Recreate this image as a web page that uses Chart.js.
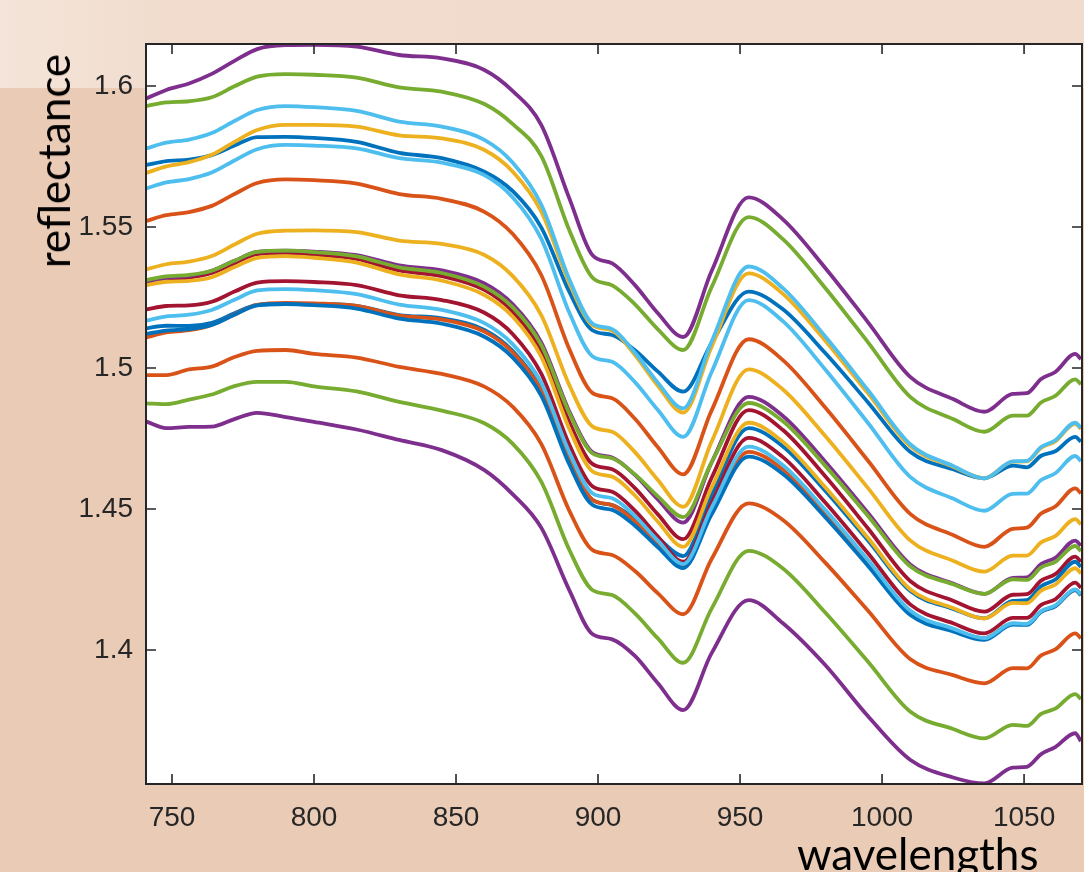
<!DOCTYPE html>
<html>
<head>
<meta charset="utf-8">
<script src="https://cdn.jsdelivr.net/npm/chart.js@4"></script>
<style>
  html, body { margin: 0; padding: 0; }
  body {
    width: 1084px; height: 872px; overflow: hidden; position: relative;
    background: #eacbb5;
  }
  #band {
    position: absolute; left: 0; top: 0; width: 1084px; height: 88px;
    background: linear-gradient(to right, #f4e4d9 0px, #f1dccd 180px, #f0dbcc 1084px);
  }
  #chart { position: absolute; left: 0; top: 0; }
  .title { position: absolute; font-family: Lato, "Open Sans", sans-serif; font-size: 44px; line-height: 44px; color: #000; white-space: nowrap; }
  #ylab { left: 53px; top: 161px; transform: translate(-50%, -50%) rotate(-90deg); }
  #xlab { left: 797px; top: 831px; }
</style>
</head>
<body>
<div id="band"></div>
<canvas id="chart" width="1084" height="872"></canvas>
<div class="title" id="ylab">reflectance</div>
<div class="title" id="xlab">wavelengths</div>

<script>
// wavelengths (nm) where the curves were sampled
const wl = [741, 748, 756, 764, 772, 780, 790, 800, 815, 830, 845, 860, 870, 880, 890, 898, 905,
  913, 921, 930, 940, 953, 965, 980, 995, 1010, 1025, 1036, 1046, 1051, 1056, 1061, 1068, 1070];

// reflectance spectra
const spec01 = [1.5720, 1.5734, 1.5739, 1.5755, 1.5789, 1.5819, 1.5820, 1.5816, 1.5802, 1.5763, 1.5744, 1.5696, 1.5627, 1.5499, 1.5268, 1.5134, 1.5117, 1.5063, 1.4988, 1.4916, 1.5089, 1.5271, 1.5209, 1.5053, 1.4879, 1.4702, 1.4641, 1.4609, 1.4654, 1.4648, 1.4689, 1.4705, 1.4756, 1.4739];
const spec02 = [1.5522, 1.5542, 1.5553, 1.5575, 1.5617, 1.5656, 1.5669, 1.5666, 1.5654, 1.5617, 1.5600, 1.5554, 1.5475, 1.5330, 1.5065, 1.4912, 1.4893, 1.4820, 1.4720, 1.4623, 1.4850, 1.5102, 1.5029, 1.4860, 1.4672, 1.4482, 1.4408, 1.4366, 1.4430, 1.4434, 1.4484, 1.4509, 1.4573, 1.4556];
const spec03 = [1.5692, 1.5715, 1.5730, 1.5756, 1.5802, 1.5844, 1.5862, 1.5862, 1.5856, 1.5825, 1.5814, 1.5773, 1.5696, 1.5555, 1.5299, 1.5152, 1.5133, 1.5046, 1.4938, 1.4842, 1.5076, 1.5336, 1.5264, 1.5097, 1.4911, 1.4722, 1.4650, 1.4609, 1.4668, 1.4669, 1.4717, 1.4740, 1.4802, 1.4784];
const spec04 = [1.5956, 1.5986, 1.6009, 1.6043, 1.6089, 1.6131, 1.6145, 1.6146, 1.6140, 1.6110, 1.6098, 1.6057, 1.5982, 1.5862, 1.5599, 1.5401, 1.5371, 1.5294, 1.5195, 1.5110, 1.5344, 1.5605, 1.5528, 1.5355, 1.5163, 1.4968, 1.4890, 1.4845, 1.4908, 1.4911, 1.4961, 1.4986, 1.5050, 1.5032];
const spec05 = [1.5929, 1.5942, 1.5946, 1.5960, 1.5999, 1.6033, 1.6042, 1.6040, 1.6030, 1.5995, 1.5980, 1.5936, 1.5865, 1.5752, 1.5486, 1.5321, 1.5293, 1.5226, 1.5138, 1.5064, 1.5287, 1.5535, 1.5458, 1.5284, 1.5092, 1.4897, 1.4819, 1.4774, 1.4831, 1.4831, 1.4878, 1.4901, 1.4960, 1.4942];
const spec06 = [1.5779, 1.5799, 1.5810, 1.5833, 1.5876, 1.5915, 1.5929, 1.5925, 1.5912, 1.5874, 1.5856, 1.5809, 1.5728, 1.5580, 1.5312, 1.5158, 1.5138, 1.5054, 1.4949, 1.4857, 1.5094, 1.5360, 1.5284, 1.5112, 1.4922, 1.4729, 1.4653, 1.4609, 1.4669, 1.4671, 1.4720, 1.4744, 1.4806, 1.4788];
const spec07 = [1.5301, 1.5315, 1.5321, 1.5337, 1.5372, 1.5404, 1.5408, 1.5402, 1.5387, 1.5346, 1.5326, 1.5277, 1.5200, 1.5060, 1.4806, 1.4660, 1.4641, 1.4574, 1.4482, 1.4393, 1.4611, 1.4851, 1.4781, 1.4616, 1.4432, 1.4244, 1.4175, 1.4136, 1.4196, 1.4198, 1.4246, 1.4269, 1.4331, 1.4313];
const spec08 = [1.5141, 1.5150, 1.5149, 1.5160, 1.5194, 1.5224, 1.5227, 1.5227, 1.5220, 1.5188, 1.5176, 1.5135, 1.5060, 1.4924, 1.4676, 1.4533, 1.4514, 1.4465, 1.4399, 1.4333, 1.4550, 1.4787, 1.4723, 1.4565, 1.4389, 1.4209, 1.4146, 1.4112, 1.4174, 1.4177, 1.4226, 1.4250, 1.4313, 1.4295];
const spec09 = [1.5109, 1.5126, 1.5134, 1.5153, 1.5190, 1.5224, 1.5231, 1.5229, 1.5220, 1.5186, 1.5172, 1.5129, 1.5055, 1.4920, 1.4674, 1.4533, 1.4514, 1.4456, 1.4376, 1.4298, 1.4493, 1.4703, 1.4641, 1.4485, 1.4311, 1.4134, 1.4073, 1.4042, 1.4094, 1.4092, 1.4136, 1.4156, 1.4213, 1.4195];
const spec10 = [1.5350, 1.5368, 1.5377, 1.5397, 1.5438, 1.5476, 1.5487, 1.5488, 1.5482, 1.5452, 1.5440, 1.5401, 1.5326, 1.5188, 1.4937, 1.4793, 1.4774, 1.4702, 1.4604, 1.4508, 1.4739, 1.4995, 1.4925, 1.4759, 1.4575, 1.4388, 1.4317, 1.4278, 1.4335, 1.4335, 1.4382, 1.4404, 1.4464, 1.4446];
const spec11 = [1.5304, 1.5320, 1.5327, 1.5345, 1.5380, 1.5412, 1.5416, 1.5413, 1.5400, 1.5364, 1.5346, 1.5300, 1.5226, 1.5091, 1.4844, 1.4702, 1.4683, 1.4621, 1.4535, 1.4452, 1.4665, 1.4898, 1.4831, 1.4668, 1.4487, 1.4303, 1.4236, 1.4199, 1.4256, 1.4258, 1.4305, 1.4327, 1.4388, 1.4370];
const spec12 = [1.5312, 1.5325, 1.5330, 1.5345, 1.5380, 1.5412, 1.5416, 1.5411, 1.5396, 1.5357, 1.5337, 1.5288, 1.5215, 1.5082, 1.4838, 1.4698, 1.4680, 1.4623, 1.4546, 1.4471, 1.4666, 1.4876, 1.4812, 1.4653, 1.4476, 1.4296, 1.4233, 1.4199, 1.4251, 1.4249, 1.4293, 1.4313, 1.4369, 1.4351];
const spec13 = [1.5637, 1.5658, 1.5670, 1.5693, 1.5736, 1.5776, 1.5791, 1.5789, 1.5779, 1.5744, 1.5728, 1.5684, 1.5605, 1.5459, 1.5194, 1.5042, 1.5022, 1.4950, 1.4852, 1.4756, 1.4986, 1.5241, 1.5167, 1.4995, 1.4806, 1.4613, 1.4537, 1.4494, 1.4554, 1.4555, 1.4603, 1.4627, 1.4688, 1.4670];
const spec14 = [1.5208, 1.5220, 1.5222, 1.5235, 1.5271, 1.5303, 1.5308, 1.5305, 1.5294, 1.5258, 1.5241, 1.5196, 1.5120, 1.4980, 1.4726, 1.4581, 1.4561, 1.4494, 1.4403, 1.4313, 1.4523, 1.4752, 1.4685, 1.4523, 1.4344, 1.4161, 1.4095, 1.4059, 1.4114, 1.4114, 1.4160, 1.4180, 1.4239, 1.4221];
const spec15 = [1.5121, 1.5133, 1.5138, 1.5153, 1.5189, 1.5222, 1.5227, 1.5223, 1.5211, 1.5175, 1.5157, 1.5111, 1.5037, 1.4902, 1.4656, 1.4515, 1.4497, 1.4441, 1.4365, 1.4291, 1.4481, 1.4686, 1.4625, 1.4471, 1.4299, 1.4124, 1.4066, 1.4036, 1.4090, 1.4089, 1.4135, 1.4155, 1.4213, 1.4195];
const spec16 = [1.4975, 1.4975, 1.4995, 1.5005, 1.5039, 1.5061, 1.5064, 1.5050, 1.5037, 1.5004, 1.4979, 1.4934, 1.4862, 1.4731, 1.4492, 1.4355, 1.4337, 1.4280, 1.4202, 1.4127, 1.4323, 1.4520, 1.4462, 1.4310, 1.4140, 1.3967, 1.3911, 1.3882, 1.3936, 1.3935, 1.3981, 1.4002, 1.4059, 1.4042];
const spec17 = [1.5294, 1.5306, 1.5309, 1.5322, 1.5358, 1.5391, 1.5397, 1.5391, 1.5374, 1.5332, 1.5310, 1.5259, 1.5182, 1.5040, 1.4782, 1.4634, 1.4615, 1.4548, 1.4456, 1.4366, 1.4577, 1.4806, 1.4739, 1.4577, 1.4398, 1.4215, 1.4149, 1.4112, 1.4167, 1.4166, 1.4211, 1.4232, 1.4290, 1.4272];
const spec18 = [1.4810, 1.4787, 1.4791, 1.4792, 1.4819, 1.4841, 1.4826, 1.4809, 1.4782, 1.4745, 1.4709, 1.4638, 1.4552, 1.4434, 1.4210, 1.4057, 1.4038, 1.3979, 1.3883, 1.3787, 1.3989, 1.4177, 1.4096, 1.3947, 1.3766, 1.3610, 1.3548, 1.3527, 1.3583, 1.3586, 1.3631, 1.3656, 1.3705, 1.3677];
const spec19 = [1.4875, 1.4872, 1.4888, 1.4906, 1.4936, 1.4951, 1.4951, 1.4935, 1.4917, 1.4880, 1.4849, 1.4804, 1.4731, 1.4597, 1.4353, 1.4213, 1.4195, 1.4130, 1.4042, 1.3955, 1.4147, 1.4352, 1.4290, 1.4133, 1.3959, 1.3781, 1.3720, 1.3687, 1.3735, 1.3731, 1.3774, 1.3792, 1.3844, 1.3826];
const spec20 = [1.5168, 1.5183, 1.5189, 1.5206, 1.5242, 1.5275, 1.5280, 1.5276, 1.5262, 1.5225, 1.5206, 1.5159, 1.5084, 1.4948, 1.4699, 1.4556, 1.4538, 1.4475, 1.4389, 1.4305, 1.4505, 1.4721, 1.4656, 1.4497, 1.4320, 1.4139, 1.4076, 1.4042, 1.4095, 1.4093, 1.4138, 1.4158, 1.4215, 1.4198];

const spectra = [spec01, spec02, spec03, spec04, spec05, spec06, spec07, spec08, spec09, spec10,
  spec11, spec12, spec13, spec14, spec15, spec16, spec17, spec18, spec19, spec20];

// matlab default line colours, cycled
const lineColors = ['#0072BD', '#D95319', '#EDB120', '#7E2F8E', '#77AC30', '#4DBEEE', '#A2142F'];

const xTicks = [750, 800, 850, 900, 950, 1000, 1050];
const xTickLabels = ['750', '800', '850', '900', '950', '1000', '1050'];
const yTicks = [1.4, 1.45, 1.5, 1.55, 1.6];
const yTickLabels = ['1.4', '1.45', '1.5', '1.55', '1.6'];

const tickFont = { family: '"Liberation Sans", Arial, sans-serif', size: 28 };
const axisColor = '#262626';

// white plot area + box with inward ticks on all four sides
const boxPlugin = {
  id: 'box',
  beforeDraw(chart) {
    const { ctx, chartArea: a } = chart;
    ctx.save();
    ctx.fillStyle = '#ffffff';
    ctx.fillRect(a.left, a.top, a.right - a.left, a.bottom - a.top);
    ctx.restore();
  },
  afterDraw(chart) {
    const { ctx, chartArea: a, scales } = chart;
    const tl = 10;
    ctx.save();
    ctx.strokeStyle = axisColor;
    ctx.lineWidth = 1.6;
    ctx.beginPath();
    xTicks.forEach(v => {
      const px = scales.x.getPixelForValue(v);
      ctx.moveTo(px, a.bottom); ctx.lineTo(px, a.bottom - tl);
      ctx.moveTo(px, a.top); ctx.lineTo(px, a.top + tl);
    });
    yTicks.forEach(v => {
      const py = scales.y.getPixelForValue(v);
      ctx.moveTo(a.left, py); ctx.lineTo(a.left + tl, py);
      ctx.moveTo(a.right, py); ctx.lineTo(a.right - tl, py);
    });
    ctx.stroke();
    ctx.lineWidth = 2;
    ctx.strokeRect(a.left, a.top, a.right - a.left, a.bottom - a.top);
    ctx.restore();
  }
};

const datasets = spectra.map((s, i) => ({
  data: wl.map((w, j) => ({ x: w, y: s[j] })),
  borderColor: lineColors[i % lineColors.length],
  borderWidth: 3.8,
  pointRadius: 0,
  fill: false,
  cubicInterpolationMode: 'monotone',
  order: spectra.length - i   // later spectra on top, like matlab
}));

new Chart(document.getElementById('chart'), {
  type: 'line',
  data: { datasets },
  options: {
    responsive: false,
    animation: false,
    devicePixelRatio: 1,
    layout: { padding: { top: 44, right: 2, left: 0, bottom: 0 } },
    plugins: { legend: { display: false }, tooltip: { enabled: false } },
    scales: {
      x: {
        type: 'linear',
        min: 740.85,
        max: 1070.4,
        grid: { display: false, drawTicks: false },
        border: { display: false },
        afterBuildTicks: s => { s.ticks = xTicks.map(v => ({ value: v })); },
        afterFit: s => { s.height = 88; },
        ticks: {
          font: tickFont, color: axisColor, padding: 17,
          maxRotation: 0, autoSkip: false,
          callback: v => xTickLabels[xTicks.indexOf(v)]
        }
      },
      y: {
        type: 'linear',
        min: 1.3525,
        max: 1.6149,
        grid: { display: false, drawTicks: false },
        border: { display: false },
        afterBuildTicks: s => { s.ticks = yTicks.map(v => ({ value: v })); },
        afterFit: s => { s.width = 146; },
        ticks: {
          font: tickFont, color: axisColor, padding: 13,
          autoSkip: false,
          callback: v => yTickLabels[yTicks.indexOf(v)]
        }
      }
    }
  },
  plugins: [boxPlugin]
});
</script>
</body>
</html>
